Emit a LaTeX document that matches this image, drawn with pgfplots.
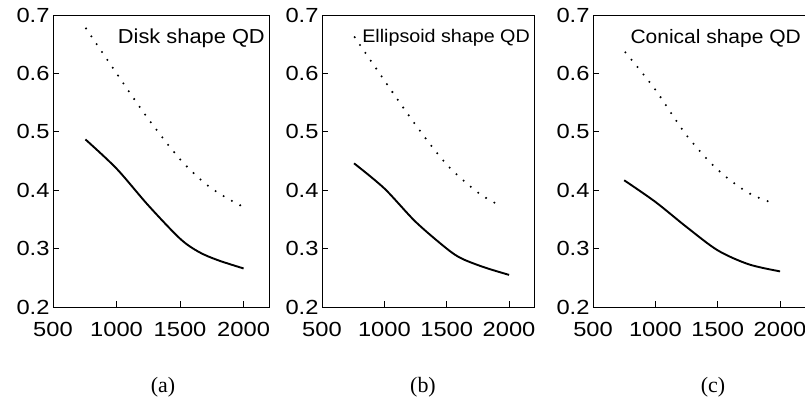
\documentclass[border=0pt]{standalone}
\usepackage{fontspec}
\usepackage{pgfplots}
\pgfplotsset{compat=1.18}
\newfontfamily\tickfont{Liberation Sans}[FakeStretch=1.16]
\newfontfamily\titlefont{Liberation Sans}[FakeStretch=1.08]
\newfontfamily\capfont{Liberation Serif}

% tres paneles iguales, solo cambia el titulo
\pgfplotsset{
  panel/.style={
    scale only axis,
    height=292bp,
    xmin=500, xmax=2200,
    ymin=0.2, ymax=0.7,
    xtick={500,1000,1500,2000},
    ytick={0.2,0.3,...,0.7},
    tick pos=left,
    tick align=inside,
    major tick length=6bp,
    tick style={black, line width=0.9bp},
    axis line style={line width=0.9bp},
    /pgf/number format/assume math mode=true,
    /pgf/number format/1000 sep={},
    ticklabel style={font=\tickfont\fontsize{20.5}{22}\selectfont},
    yticklabel style={/pgf/number format/.cd, fixed, fixed zerofill, precision=1},
    xticklabel style={yshift=-12bp},
    clip=false,
  },
  solida/.style={black, line width=1.9bp, smooth, tension=0.5},
  punteada/.style={black, line width=2.3bp, line cap=round,
    dash pattern=on 0bp off 9.5bp, smooth, tension=0.5},
}
% #1 tamano de letra, #2 texto
\newcommand{\titulo}[2]{%
  \node[anchor=north east, inner sep=0pt, font=\titlefont\fontsize{#1}{21}\selectfont]
    at (rel axis cs:1,1) [xshift=-4bp, yshift=-14bp] {#2};}

\begin{document}
\begin{tikzpicture}[x=1bp, y=1bp]
\path[use as bounding box] (0,0) rectangle (805,401);

% (a) disco
\begin{axis}[panel, width=216bp, at={(53bp,94bp)}, anchor=south west]
  \addplot[punteada] coordinates {
    (760,0.677) (1000,0.600) (1250,0.522) (1500,0.453) (1700,0.411)
    (1850,0.389) (2000,0.371)};
  \addplot[solida] coordinates {
    (755,0.487) (1000,0.437) (1250,0.374) (1500,0.317) (1650,0.294)
    (1800,0.280) (2000,0.266)};
  \titulo{20.3}{Disk shape QD}
\end{axis}

% (b) elipsoide
\begin{axis}[panel, width=212bp, at={(322bp,94bp)}, anchor=south west]
  \addplot[punteada] coordinates {
    (762,0.662) (1000,0.588) (1250,0.512) (1500,0.444) (1750,0.396)
    (1940,0.372)};
  \addplot[solida] coordinates {
    (757,0.446) (1000,0.403) (1250,0.346) (1500,0.300) (1620,0.283)
    (1800,0.268) (2000,0.255)};
  \titulo{18.3}{Ellipsoid shape QD}
\end{axis}

% (c) conico
\begin{axis}[panel, width=212bp, at={(593bp,94bp)}, anchor=south west]
  \addplot[punteada] coordinates {
    (760,0.636) (1000,0.572) (1250,0.494) (1500,0.435) (1750,0.395)
    (1970,0.376)};
  \addplot[solida] coordinates {
    (750,0.417) (1000,0.380) (1250,0.337) (1500,0.297) (1750,0.273)
    (2000,0.261)};
  \titulo{19.5}{Conical shape QD}
\end{axis}

\node[font=\capfont\fontsize{22}{24}\selectfont] at (163,14) {(a)};
\node[font=\capfont\fontsize{22}{24}\selectfont] at (423,14) {(b)};
\node[font=\capfont\fontsize{22}{24}\selectfont] at (713,14) {(c)};
\end{tikzpicture}
\end{document}
